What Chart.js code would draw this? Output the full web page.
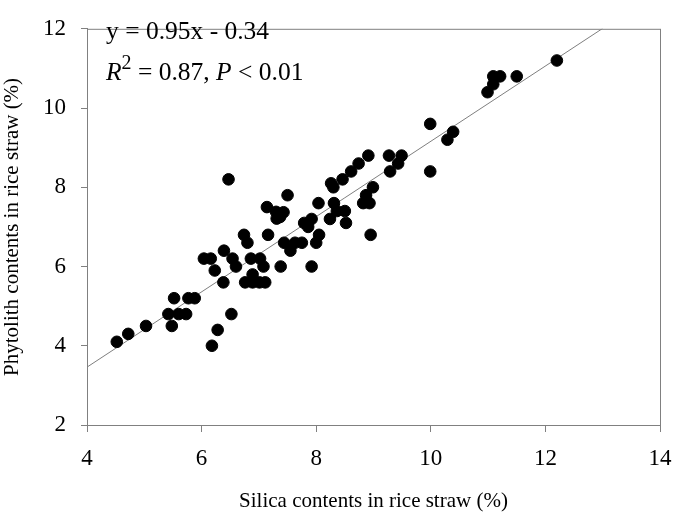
<!DOCTYPE html>
<html lang="en">
<head>
    <meta charset="UTF-8">
    <title>Phytolith vs Silica</title>
    <script src="https://cdn.jsdelivr.net/npm/chart.js"></script>
    <style>
        body { margin: 0; background: white; }
        #wrap { width: 675px; height: 520px; }
    </style>
</head>
<body>
    <div id="wrap"><canvas id="chart" width="675" height="520"></canvas></div>
    <script>
        // Data
        const silica = [4.52, 4.72, 5.03, 5.48, 5.42, 5.60, 5.73, 5.52, 5.77, 5.88,
            6.18, 6.28, 6.52, 6.04, 6.16, 6.39, 6.23, 6.38, 6.54, 6.60,
            6.74, 6.80, 6.76, 6.86, 6.47, 7.14, 7.30, 7.43, 7.31, 7.37,
            7.50, 7.16, 7.02, 7.08, 7.38, 6.89, 6.89, 7.01, 7.11, 7.44,
            7.55, 7.63, 7.75, 8.00, 8.05, 7.92, 7.79, 7.86, 7.92, 8.04,
            8.26, 8.30, 8.31, 8.36, 8.50, 8.24, 8.52, 8.87, 8.99, 8.82,
            8.93, 8.95, 9.99, 10.39, 10.29, 9.99, 8.91, 8.74, 8.61, 8.46,
            9.27, 9.49, 9.43, 9.29, 12.20, 11.09, 11.21, 11.09, 10.99, 11.50];
        const phytolith = [4.10, 4.30, 4.50, 4.50, 4.80, 4.80, 4.80, 5.20, 5.20, 5.20,
            4.00, 4.40, 4.80, 6.20, 6.20, 6.40, 5.90, 5.60, 6.20, 6.00,
            6.80, 6.60, 5.60, 6.20, 8.20, 7.50, 7.38, 7.37, 7.21, 7.25,
            7.80, 6.80, 6.20, 6.00, 6.00, 5.80, 5.60, 5.60, 5.60, 6.60,
            6.40, 6.60, 6.60, 6.60, 6.80, 6.00, 7.10, 7.00, 7.20, 7.60,
            8.10, 8.00, 7.60, 7.40, 7.40, 7.20, 7.10, 7.80, 8.00, 7.60,
            7.60, 6.80, 9.60, 9.40, 9.20, 8.40, 8.80, 8.60, 8.40, 8.20,
            8.80, 8.80, 8.60, 8.40, 11.20, 10.80, 10.80, 10.60, 10.40, 10.80];
        const xTicks = [4, 6, 8, 10, 12, 14];
        const yTicks = [2, 4, 6, 8, 10, 12];
        const slope = 0.95, intercept = -0.34;
        const fitRange = [4, 13];

        const serif = "'Liberation Serif', 'Times New Roman', serif";

        const points = silica.map((x, i) => ({ x: x, y: phytolith[i] }));
        const fitLine = fitRange.map(x => ({ x: x, y: slope * x + intercept }));

        // box around plot area + equation text
        const extras = {
            id: 'extras',
            afterDraw(chart) {
                const ctx = chart.ctx;
                const a = chart.chartArea;
                ctx.save();
                ctx.strokeStyle = '#808080';
                ctx.lineWidth = 1;
                ctx.strokeRect(a.left + 0.5, a.top + 0.5, a.right - a.left, a.bottom - a.top);

                ctx.fillStyle = '#000';
                ctx.textBaseline = 'alphabetic';
                ctx.font = '25.5px ' + serif;
                ctx.fillText('y = 0.95x - 0.34', 106, 39);

                let x = 106, y = 80;
                ctx.font = 'italic 25.5px ' + serif;
                ctx.fillText('R', x, y);
                x += ctx.measureText('R').width;
                ctx.font = '20px ' + serif;
                ctx.fillText('2', x, y - 11);
                x += ctx.measureText('2').width;
                ctx.font = '25.5px ' + serif;
                ctx.fillText(' = 0.87, ', x, y);
                x += ctx.measureText(' = 0.87, ').width;
                ctx.font = 'italic 25.5px ' + serif;
                ctx.fillText('P', x, y);
                x += ctx.measureText('P').width;
                ctx.font = '25.5px ' + serif;
                ctx.fillText(' < 0.01', x, y);
                ctx.restore();
            }
        };

        new Chart(document.getElementById('chart'), {
            type: 'scatter',
            data: {
                datasets: [
                    {
                        data: points,
                        backgroundColor: '#000',
                        borderColor: '#000',
                        pointRadius: 5.8,
                        pointHoverRadius: 5.8
                    },
                    {
                        type: 'line',
                        data: fitLine,
                        borderColor: '#7f7f7f',
                        borderWidth: 1,
                        pointRadius: 0,
                        fill: false
                    }
                ]
            },
            options: {
                responsive: false,
                animation: false,
                layout: { padding: { top: 12, right: 15, left: 0, bottom: 0 } },
                plugins: {
                    legend: { display: false },
                    tooltip: { enabled: false }
                },
                scales: {
                    x: {
                        type: 'linear',
                        min: 4, max: 14,
                        afterBuildTicks: s => { s.ticks = xTicks.map(v => ({ value: v })); },
                        afterFit: s => { s.height = 95; s.paddingLeft = 0; s.paddingRight = 0; },
                        grid: { drawOnChartArea: false, drawTicks: true, tickLength: 7, color: '#808080' },
                        border: { display: true, color: '#808080' },
                        ticks: { color: '#000', font: { family: serif, size: 23 }, padding: 13, maxRotation: 0 },
                        title: {
                            display: true,
                            text: 'Silica contents in rice straw (%)',
                            color: '#000',
                            font: { family: serif, size: 21 },
                            padding: { top: 0, bottom: 6 }
                        }
                    },
                    y: {
                        type: 'linear',
                        min: 2, max: 12,
                        afterBuildTicks: s => { s.ticks = yTicks.map(v => ({ value: v })); },
                        afterFit: s => { s.width = 87; },
                        grid: { drawOnChartArea: false, drawTicks: true, tickLength: 6, color: '#808080' },
                        border: { display: true, color: '#808080' },
                        ticks: { color: '#000', font: { family: serif, size: 23 }, padding: 15 },
                        title: {
                            display: true,
                            text: 'Phytolith contents in rice straw (%)',
                            color: '#000',
                            font: { family: serif, size: 21 },
                            padding: { top: 0, bottom: 4 }
                        }
                    }
                }
            },
            plugins: [extras]
        });
    </script>
</body>
</html>
